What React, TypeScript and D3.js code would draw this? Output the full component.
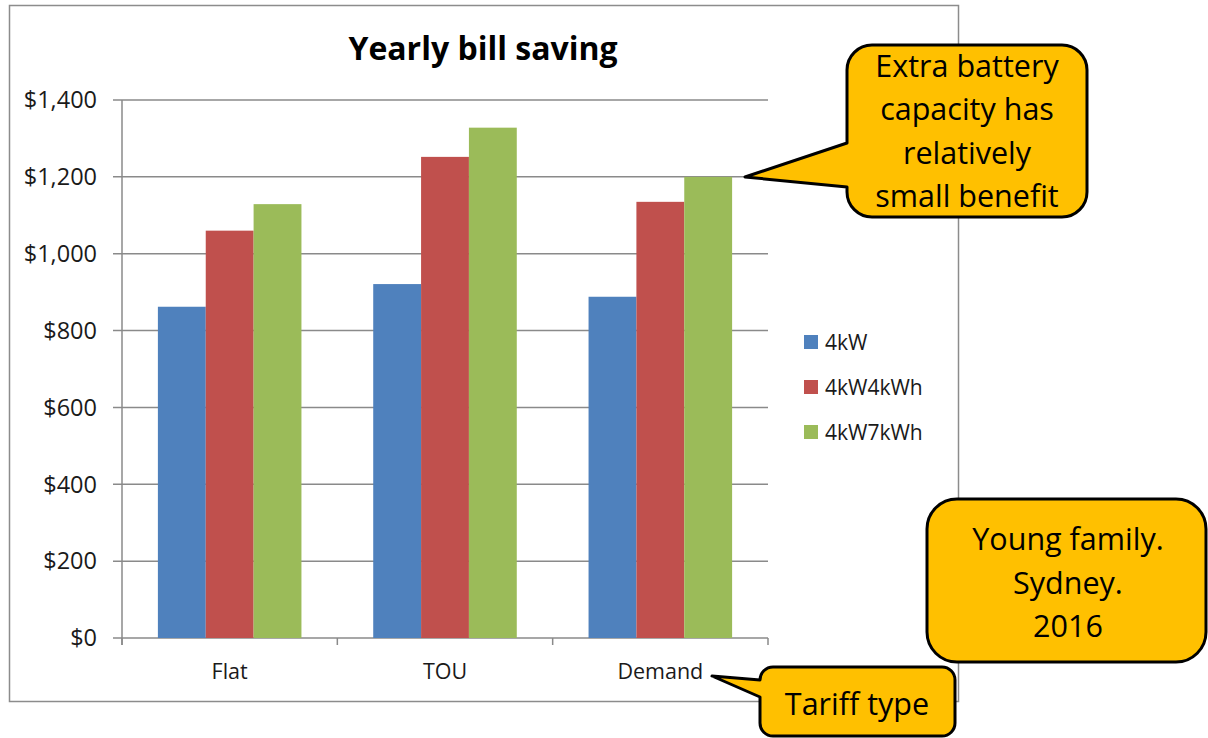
import React from "react";
import * as d3 from "d3";

// Yearly bill saving by tariff type, for three PV / battery configurations
const categories = ["Flat", "TOU", "Demand"];
const seriesNames = ["4kW", "4kW4kWh", "4kW7kWh"];
const seriesValues: number[][] = [
  [862, 921, 888],    // 4kW
  [1060, 1252, 1135], // 4kW4kWh
  [1129, 1328, 1200], // 4kW7kWh
];
const yTicks = [0, 200, 400, 600, 800, 1000, 1200, 1400];
const seriesColors = ["#4F81BD", "#C0504D", "#9BBB59"];

const calloutBattery = ["Extra battery", "capacity has", "relatively", "small benefit"];
const calloutHousehold = ["Young family.", "Sydney.", "2016"];
const calloutTariff = ["Tariff type"];

const FONT = "'Open Sans', 'DejaVu Sans', sans-serif";
const GRID = "#8a8a8a";
const CALLOUT_FILL = "#FFC000";

// Rounded rectangle with a wedge pointing out of its left side
function calloutPath(
  x: number, y: number, w: number, h: number, r: number,
  tipX: number, tipY: number, baseTop: number, baseBottom: number
) {
  const p = d3.path();
  p.moveTo(x + r, y);
  p.lineTo(x + w - r, y);
  p.arcTo(x + w, y, x + w, y + r, r);
  p.lineTo(x + w, y + h - r);
  p.arcTo(x + w, y + h, x + w - r, y + h, r);
  p.lineTo(x + r, y + h);
  p.arcTo(x, y + h, x, y + h - r, r);
  p.lineTo(x, baseBottom);
  p.lineTo(tipX, tipY);
  p.lineTo(x, baseTop);
  p.lineTo(x, y + r);
  p.arcTo(x, y, x + r, y, r);
  p.closePath();
  return p.toString();
}

export default function App() {
  const width = 1208;
  const height = 738;
  const plotLeft = 122;
  const plotRight = 768;
  const plotTop = 100;
  const plotBottom = 638;

  const x0 = d3.scaleBand<string>().domain(categories).range([plotLeft, plotRight]).padding(0);
  const bw = x0.bandwidth();
  const x1 = d3.scaleBand<string>().domain(seriesNames).range([bw / 6, (bw * 5) / 6]).padding(0);
  const y = d3.scaleLinear().domain([0, 1400]).range([plotBottom, plotTop]);
  const fmt = (v: number) => "$" + d3.format(",")(v);

  const boundaries = categories.map((c) => x0(c) as number).concat([plotRight]);

  return (
    <svg
      width={width}
      height={height}
      style={{ position: "absolute", left: 0, top: 0, background: "#fff" }}
      fontFamily={FONT}
    >
      {/* chart frame */}
      <rect x={9.5} y={5.5} width={949} height={696} fill="#fff" stroke="#8c8c8c" strokeWidth={1.5} />

      <text x={483} y={60} textAnchor="middle" fontSize={32} fontWeight={700} fill="#000">
        Yearly bill saving
      </text>

      {/* gridlines and y ticks */}
      {yTicks.map((t) => (
        <g key={t}>
          <line x1={plotLeft - 9} x2={plotRight} y1={y(t)} y2={y(t)} stroke={GRID} strokeWidth={1.5} />
          <text x={97} y={y(t)} dy="0.35em" textAnchor="end" fontSize={23.5} fill="#1a1a1a">
            {fmt(t)}
          </text>
        </g>
      ))}

      {/* bars */}
      {seriesNames.map((s, si) => (
        <g key={s} fill={seriesColors[si]}>
          {categories.map((c, ci) => (
            <rect
              key={c}
              x={(x0(c) as number) + (x1(s) as number)}
              y={y(seriesValues[si][ci])}
              width={x1.bandwidth()}
              height={y(0) - y(seriesValues[si][ci])}
            />
          ))}
        </g>
      ))}

      {/* axes */}
      <line x1={plotLeft} x2={plotLeft} y1={plotTop} y2={plotBottom + 7} stroke={GRID} strokeWidth={1.5} />
      {boundaries.map((b, i) => (
        <line key={i} x1={b} x2={b} y1={plotBottom} y2={plotBottom + 7} stroke={GRID} strokeWidth={1.5} />
      ))}
      {categories.map((c) => (
        <text key={c} x={(x0(c) as number) + bw / 2} y={679} textAnchor="middle" fontSize={21.5} fill="#1a1a1a">
          {c}
        </text>
      ))}

      {/* legend */}
      {seriesNames.map((s, i) => (
        <g key={s} transform={`translate(804, ${342 + i * 45})`}>
          <rect x={0} y={-7} width={14} height={14} fill={seriesColors[i]} />
          <text x={21} y={0} dy="0.36em" fontSize={21} fill="#1a1a1a">
            {s}
          </text>
        </g>
      ))}

      {/* callouts */}
      <path
        d={calloutPath(847, 45, 240, 172, 25, 745, 177, 143, 187)}
        fill={CALLOUT_FILL}
        stroke="#000"
        strokeWidth={3}
        strokeLinejoin="round"
      />
      {calloutBattery.map((line, i) => (
        <text key={line} x={967} y={77 + i * 43.3} textAnchor="middle" fontSize={30.5} fill="#000">
          {line}
        </text>
      ))}

      <path
        d={calloutPath(927, 499, 279, 163, 30, 927, 560, 560, 560)}
        fill={CALLOUT_FILL}
        stroke="#000"
        strokeWidth={3}
        strokeLinejoin="round"
      />
      {calloutHousehold.map((line, i) => (
        <text key={line} x={1068} y={550 + i * 43.5} textAnchor="middle" fontSize={30.5} fill="#000">
          {line}
        </text>
      ))}

      <path
        d={calloutPath(760, 667, 195, 69, 13, 712, 676, 680, 697)}
        fill={CALLOUT_FILL}
        stroke="#000"
        strokeWidth={3}
        strokeLinejoin="round"
      />
      {calloutTariff.map((line) => (
        <text key={line} x={857} y={715} textAnchor="middle" fontSize={30.5} fill="#000">
          {line}
        </text>
      ))}
    </svg>
  );
}
